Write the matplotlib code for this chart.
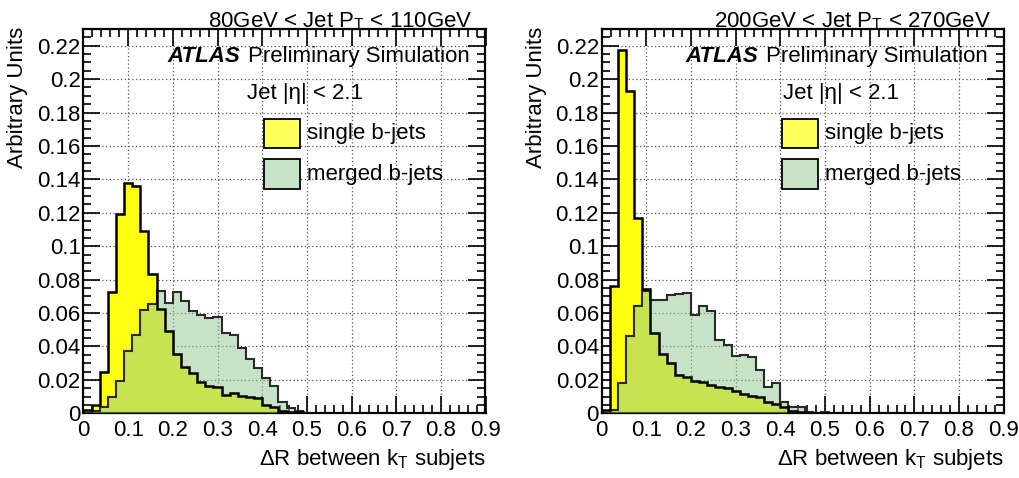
import numpy as np
import matplotlib
matplotlib.use("Agg")
import matplotlib.pyplot as plt
from matplotlib.patches import Rectangle
from matplotlib.ticker import MultipleLocator, FuncFormatter

plt.rcParams['font.family'] = ['Liberation Sans', 'DejaVu Sans']
plt.rcParams['mathtext.fontset'] = 'custom'
plt.rcParams['mathtext.rm'] = 'Liberation Sans'
plt.rcParams['mathtext.it'] = 'Liberation Sans:italic'

# ---- data (bin contents, bin width 1/55 starting at 0) ----
bin_width = 1.0 / 55

single_low = [0.002, 0.005, 0.025, 0.0726, 0.119, 0.138, 0.136, 0.109, 0.0836, 0.0624,
              0.049, 0.0356, 0.0276, 0.024, 0.019, 0.0164, 0.0156, 0.011, 0.0124, 0.0104,
              0.0096, 0.009, 0.005, 0.0036, 0.0016, 0.001, 0.0005, 0.0]
merged_low = [0.0, 0.0016, 0.0036, 0.0096, 0.0196, 0.037, 0.047, 0.062, 0.0656, 0.0734,
              0.066, 0.0726, 0.067, 0.061, 0.059, 0.057, 0.0576, 0.048, 0.047, 0.039,
              0.0324, 0.027, 0.0214, 0.0164, 0.0068, 0.003, 0.0012, 0.0004]

single_high = [0.002, 0.076, 0.2176, 0.193, 0.117, 0.0744, 0.048, 0.0356, 0.030, 0.023,
               0.022, 0.0196, 0.0186, 0.017, 0.016, 0.015, 0.0135, 0.0114, 0.0106, 0.0098,
               0.0066, 0.0056, 0.0036, 0.0014, 0.0008, 0.0003, 0.0, 0.0]
merged_high = [0.0004, 0.002, 0.018, 0.0464, 0.064, 0.073, 0.0676, 0.0676, 0.071, 0.0716,
               0.072, 0.059, 0.064, 0.0614, 0.0436, 0.0406, 0.034, 0.035, 0.0336, 0.026,
               0.0156, 0.0184, 0.007, 0.0038, 0.004, 0.0005, 0.0, 0.001]

titles = ["80GeV < Jet P$_{\\mathrm{T}}$ < 110GeV", "200GeV < Jet P$_{\\mathrm{T}}$ < 270GeV"]
legend_labels = ["single b-jets", "merged b-jets"]
eta_x = [0.366, 0.407]

YELLOW = '#ffff10'
GREEN = (0.57, 0.79, 0.57)
FS = 16

# ---------------------------------------

def draw_panel(ax, single, merged, title, jet_x):
    edges = np.arange(len(single) + 1) * bin_width
    ax.stairs(single, edges, fill=True, color=YELLOW, zorder=2)
    ax.stairs(merged, edges, fill=True, color=GREEN, alpha=0.5, linewidth=0, zorder=3)
    ax.stairs(merged, edges, color='#2a2a2a', linewidth=1.5, zorder=4)
    ax.stairs(single, edges, color='black', linewidth=1.8, zorder=5)

    ax.set_xlim(0, 0.9)
    ax.set_ylim(0, 0.23)
    ax.xaxis.set_major_locator(MultipleLocator(0.1))
    ax.xaxis.set_minor_locator(MultipleLocator(0.02))
    ax.yaxis.set_major_locator(MultipleLocator(0.02))
    ax.yaxis.set_minor_locator(MultipleLocator(0.005))
    fmt = FuncFormatter(lambda v, p: "%g" % round(v, 3))
    ax.xaxis.set_major_formatter(fmt)
    ax.yaxis.set_major_formatter(fmt)
    ax.tick_params(which='both', direction='in', top=True, right=True, labelsize=FS, width=1.2)
    ax.tick_params(which='major', length=12)
    ax.tick_params(which='minor', length=6)
    ax.tick_params(axis='x', pad=5)
    ax.tick_params(axis='y', pad=2)
    ax.grid(True, which='major', color='#555555', linestyle=(0, (1, 2)), linewidth=0.9)
    ax.set_axisbelow(True)
    for s in ax.spines.values():
        s.set_linewidth(1.6)

    ax.text(0.871 / 0.9, 1.003, title, transform=ax.transAxes, ha='right', va='baseline', fontsize=FS)
    ax.text(0.187, 0.2105, "ATLAS", fontsize=FS, fontweight='bold', fontstyle='italic', va='baseline')
    ax.text(0.368, 0.2105, "Preliminary Simulation", fontsize=FS, va='baseline')
    ax.text(jet_x, 0.188, "Jet |\u03b7| < 2.1", fontsize=FS, va='baseline')

    box_cols = ['#ffff5a', (0.78, 0.89, 0.78)]
    box_tops = [0.176, 0.152]
    for lab, col, top in zip(legend_labels, box_cols, box_tops):
        ax.add_patch(Rectangle((0.403, top - 0.0175), 0.081, 0.0175, facecolor=col,
                               edgecolor='black', linewidth=1.3, zorder=6))
        ax.text(0.5, top - 0.0088, lab, fontsize=FS, va='center', zorder=6)

    ax.text(1.0, -0.1345, "\u0394R between k$_{\\mathrm{T}}$ subjets", transform=ax.transAxes,
            ha='right', va='baseline', fontsize=FS)
    ax.text(-0.163, 1.005, "Arbitrary Units", transform=ax.transAxes, rotation=90,
            ha='center', va='top', fontsize=FS)


def main():
    fig = plt.figure(figsize=(10.2, 4.78), dpi=100)
    ax1 = fig.add_axes([83.5 / 1020, 64.7 / 478, 402 / 1020, 384.3 / 478])
    ax2 = fig.add_axes([601.7 / 1020, 64.7 / 478, 402 / 1020, 384.3 / 478])

    draw_panel(ax1, single_low, merged_low, titles[0], eta_x[0])
    draw_panel(ax2, single_high, merged_high, titles[1], eta_x[1])

    fig.savefig("out.png", dpi=100)

# ---------------------------------------

if __name__ == "__main__":
    main()
